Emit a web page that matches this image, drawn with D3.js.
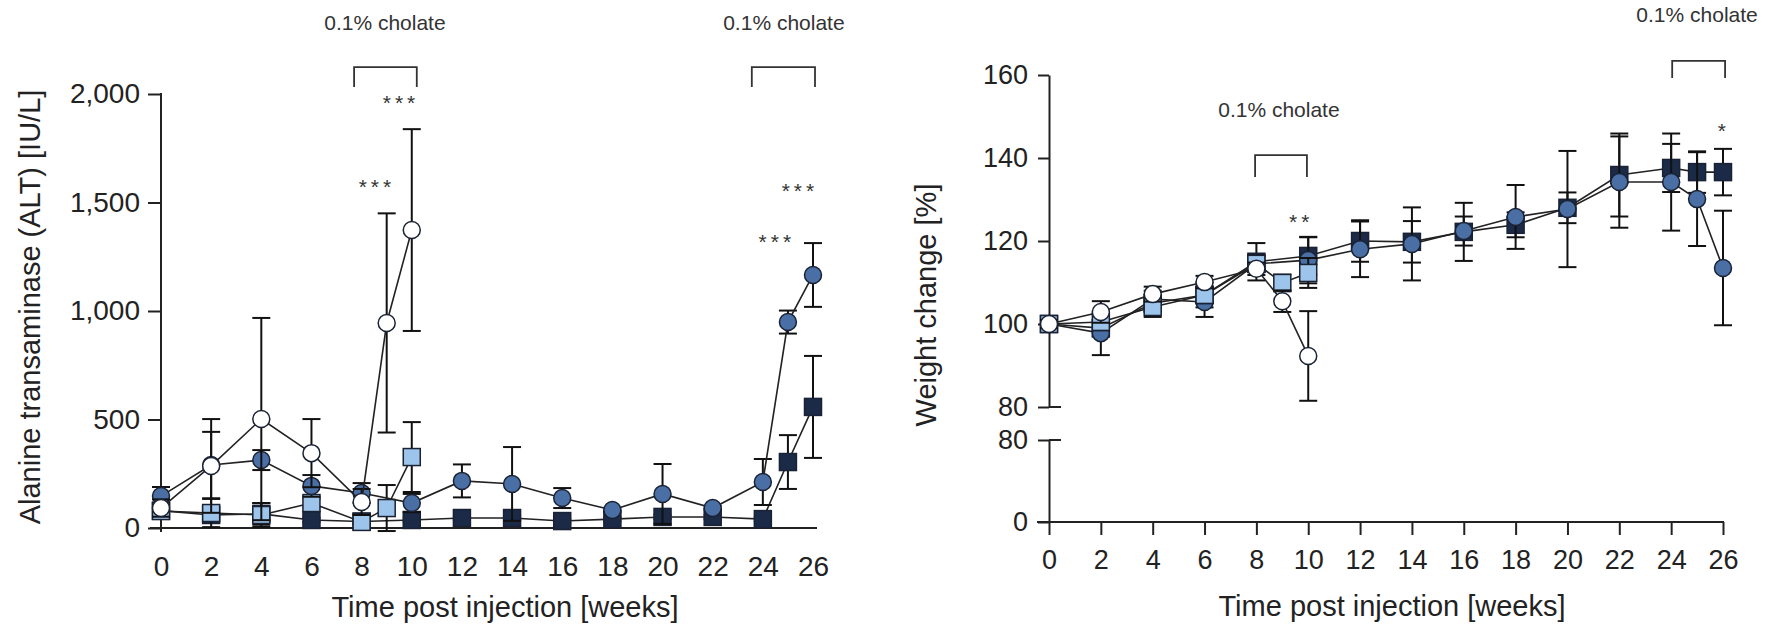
<!DOCTYPE html>
<html>
<head>
<meta charset="utf-8">
<script src="https://cdn.jsdelivr.net/npm/d3@7"></script>
<style>
  body { margin: 0; background: #fff; }
  svg text { font-family: "Liberation Sans", Arial, sans-serif; fill: #222; }
</style>
</head>
<body>
<div id="chart"></div>
<script>
// weeks sampled: short series stop at week 10, long ones run to 26
var weeksShort = [0, 2, 4, 6, 8, 9, 10];
var weeksLong = [0, 2, 4, 6, 8, 10, 12, 14, 16, 18, 20, 22, 24, 25, 26];
var weekTicks = [0, 2, 4, 6, 8, 10, 12, 14, 16, 18, 20, 22, 24, 26];

// ALT [IU/L]
var altTicks = [0, 500, 1000, 1500, 2000];
var altOpen = [92, 286, 502, 345, 120, 945, 1373];
var altOpenSd = [40, 216, 466, 157, 60, 505, 465];
var altLight = [78, 69, 60, 115, 28, 92, 327];
var altLightSd = [20, 65, 55, 20, 10, 106, 161];
var altBlue = [147, 290, 313, 194, 161, 115, 217, 203, 138, 83, 157, 92, 212, 949, 1166];
var altBlueSd = [42, 153, 46, 50, 46, 42, 76, 170, 46, 10, 138, 10, 106, 53, 147];
var altDark = [80, 60, 65, 37, 30, 37, 46, 46, 32, 41, 51, 51, 41, 304, 558];
var altDarkSd = [10, 10, 50, 10, 10, 10, 10, 10, 10, 10, 10, 10, 10, 124, 235];

// weight change [%]
var wtTicksUpper = [80, 100, 120, 140, 160];
var wtTicksLower = [0, 80];
var wtOpen = [100, 102.9, 107.2, 110.1, 113.3, 105.5, 92.3];
var wtOpenSd = [1, 2.6, 1.8, 1.5, 1.5, 2.6, 10.8];
var wtLight = [100, 100.5, 104.1, 107, 114.5, 109.9, 112.3];
var wtLightSd = [1, 2, 2.4, 2, 2, 2, 3.6];
var wtBlue = [100, 97.8, 106, 105.3, 114.5, 115.4, 118, 119.3, 122.4, 125.8, 127.7, 134.2, 134.2, 130.1, 113.5];
var wtBlueSd = [1, 5.3, 2, 3.6, 2, 5.6, 6.7, 8.8, 3.5, 7.7, 14, 11, 11.7, 11.3, 13.8];
var wtDark = [100, 99, 105, 107, 115, 116.4, 120, 119.8, 122.2, 123.9, 128, 135.9, 137.6, 136.6, 136.6];
var wtDarkSd = [1, 2, 2, 3, 4.5, 4.5, 5, 5, 7, 3, 3.7, 10, 5.8, 5, 5.6];

// annotations, in data units: [fromWeek, toWeek, top, bottom]
var altBrackets = [[7.7, 10.2, 2124, 2032], [23.56, 26.08, 2124, 2032]];
var altNotes = [[8.93, 2295], [24.84, 2295]];
var altStars = [[9.49, 1982, "***"], [8.53, 1594, "***"], [25.4, 1576, "***"], [24.48, 1341, "***"]];
var wtBrackets = [[7.95, 9.95, 140.7, 135.4], [24.04, 26.08, 163.4, 159.3]];
var wtNotes = [[8.87, 149.9], [25.0, 172.8]];
var wtStars = [[9.65, 125.8, "**"], [25.96, 147.7, "*"]];

var colors = {
  open: "#ffffff", light: "#9dc4ea", blue: "#4a6fa5", dark: "#1b2a47"
};

var svg = d3.select("#chart").append("svg")
  .attr("width", 1771)
  .attr("height", 629);

// left panel scales
var xL = d3.scaleLinear().domain([0, 26]).range([161, 813]);
var yL = d3.scaleLinear().domain([0, 2000]).range([528, 94]);

// right panel: broken y axis
var xR = d3.scaleLinear().domain([0, 26]).range([1049, 1723]);
var yRU = d3.scaleLinear().domain([80, 160]).range([407, 75]);
var yRL = d3.scaleLinear().domain([0, 80]).range([522, 440]);
function yR(v) { return v >= 80 ? yRU(v) : yRL(v); }

function drawSeries(g, x, y, weeks, mean, sd, shape, fill) {
  var pts = weeks.map(function(w, i) { return {w: w, m: mean[i], s: sd[i]}; });

  var eb = g.append("g").attr("stroke", "#111").attr("stroke-width", 2);
  pts.forEach(function(d) {
    var top = y(d.m + d.s), bot = y(d.m - d.s), cx = x(d.w);
    eb.append("line").attr("x1", cx).attr("x2", cx).attr("y1", top).attr("y2", bot);
    eb.append("line").attr("x1", cx - 9).attr("x2", cx + 9).attr("y1", top).attr("y2", top);
    eb.append("line").attr("x1", cx - 9).attr("x2", cx + 9).attr("y1", bot).attr("y2", bot);
  });

  var line = d3.line().x(function(d) { return x(d.w); }).y(function(d) { return y(d.m); });
  g.append("path").datum(pts)
    .attr("d", line)
    .attr("fill", "none")
    .attr("stroke", "#222")
    .attr("stroke-width", 1.6);

  if (shape == "square") {
    g.selectAll(null).data(pts).enter().append("rect")
      .attr("x", function(d) { return x(d.w) - 8.5; })
      .attr("y", function(d) { return y(d.m) - 8.5; })
      .attr("width", 17).attr("height", 17)
      .attr("fill", fill)
      .attr("stroke", "#1a2235")
      .attr("stroke-width", 1.5);
  } else {
    g.selectAll(null).data(pts).enter().append("circle")
      .attr("cx", function(d) { return x(d.w); })
      .attr("cy", function(d) { return y(d.m); })
      .attr("r", 8.5)
      .attr("fill", fill)
      .attr("stroke", "#1a2235")
      .attr("stroke-width", 1.5);
  }
}

function drawNotes(g, x, y, brackets, notes, stars) {
  brackets.forEach(function(b) {
    g.append("path")
      .attr("d", "M" + x(b[0]) + "," + y(b[3]) + "V" + y(b[2]) + "H" + x(b[1]) + "V" + y(b[3]))
      .attr("fill", "none").attr("stroke", "#333").attr("stroke-width", 1.8);
  });
  notes.forEach(function(n) {
    g.append("text").attr("x", x(n[0])).attr("y", y(n[1]))
      .attr("text-anchor", "middle").attr("font-size", 21)
      .style("fill", "#333")
      .text("0.1% cholate");
  });
  stars.forEach(function(s) {
    g.append("text").attr("x", x(s[0]) + 2).attr("y", y(s[1]) + 12)
      .attr("text-anchor", "middle").attr("font-size", 21)
      .attr("letter-spacing", 4)
      .style("fill", "#333")
      .text(s[2]);
  });
}

// ---------- left panel ----------
var left = svg.append("g");

left.append("g")
  .attr("transform", "translate(" + xL(0) + ",0)")
  .call(d3.axisLeft(yL).tickValues(altTicks).tickSize(13).tickPadding(8).tickFormat(d3.format(",")))
  .call(function(a) {
    a.select(".domain").remove();
    a.selectAll("line").attr("stroke", "#222").attr("stroke-width", 2);
    a.selectAll("text").attr("font-size", 28).style("fill", "#222");
  });
left.append("line")
  .attr("x1", xL(0)).attr("x2", xL(0))
  .attr("y1", yL(2000) - 1).attr("y2", yL(0) + 4)
  .attr("stroke", "#222").attr("stroke-width", 2);

left.append("g")
  .attr("transform", "translate(0," + yL(0) + ")")
  .call(d3.axisBottom(xL).tickValues(weekTicks).tickSize(0).tickPadding(28))
  .call(function(a) {
    a.select(".domain").remove();
    a.selectAll("text").attr("font-size", 28).style("fill", "#222");
  });
left.append("line")
  .attr("x1", xL(0) - 11).attr("x2", xL(26) + 4)
  .attr("y1", yL(0)).attr("y2", yL(0))
  .attr("stroke", "#222").attr("stroke-width", 2);

left.append("text")
  .attr("transform", "translate(40," + 307 + ") rotate(-90)")
  .attr("text-anchor", "middle").attr("font-size", 29)
  .text("Alanine transaminase (ALT) [IU/L]");
left.append("text")
  .attr("x", 505).attr("y", 617)
  .attr("text-anchor", "middle").attr("font-size", 29)
  .text("Time post injection [weeks]");

drawSeries(left.append("g"), xL, yL, weeksLong, altDark, altDarkSd, "square", colors.dark);
drawSeries(left.append("g"), xL, yL, weeksShort, altLight, altLightSd, "square", colors.light);
drawSeries(left.append("g"), xL, yL, weeksLong, altBlue, altBlueSd, "circle", colors.blue);
drawSeries(left.append("g"), xL, yL, weeksShort, altOpen, altOpenSd, "circle", colors.open);
drawNotes(left, xL, yL, altBrackets, altNotes, altStars);

// ---------- right panel ----------
var right = svg.append("g");

right.append("g")
  .attr("transform", "translate(" + xR(0) + ",0)")
  .call(d3.axisLeft(yRU).tickValues(wtTicksUpper).tickSize(11).tickPadding(10).tickSizeOuter(0))
  .call(function(a) {
    a.selectAll("path, line").attr("stroke", "#222").attr("stroke-width", 2);
    a.selectAll("text").attr("font-size", 27).style("fill", "#222");
  });
right.append("g")
  .attr("transform", "translate(" + xR(0) + ",0)")
  .call(d3.axisLeft(yRL).tickValues(wtTicksLower).tickSize(11).tickPadding(10).tickSizeOuter(0))
  .call(function(a) {
    a.selectAll("path, line").attr("stroke", "#222").attr("stroke-width", 2);
    a.selectAll("text").attr("font-size", 27).style("fill", "#222");
  });
// break marks: the 80 ticks cross the axis
[yRU(80), yRL(80)].forEach(function(yy) {
  right.append("line")
    .attr("x1", xR(0)).attr("x2", xR(0) + 12)
    .attr("y1", yy).attr("y2", yy)
    .attr("stroke", "#222").attr("stroke-width", 2);
});

right.append("g")
  .attr("transform", "translate(0," + yRL(0) + ")")
  .call(d3.axisBottom(xR).tickValues(weekTicks).tickSize(13).tickPadding(15))
  .call(function(a) {
    a.select(".domain").remove();
    a.selectAll("line").attr("stroke", "#222").attr("stroke-width", 2);
    a.selectAll("text").attr("font-size", 27).style("fill", "#222");
  });
right.append("line")
  .attr("x1", xR(0) - 12).attr("x2", xR(26) + 1)
  .attr("y1", yRL(0)).attr("y2", yRL(0))
  .attr("stroke", "#222").attr("stroke-width", 2);

right.append("text")
  .attr("transform", "translate(936," + 305 + ") rotate(-90)")
  .attr("text-anchor", "middle").attr("font-size", 29)
  .text("Weight change [%]");
right.append("text")
  .attr("x", 1392).attr("y", 616)
  .attr("text-anchor", "middle").attr("font-size", 29)
  .text("Time post injection [weeks]");

drawSeries(right.append("g"), xR, yR, weeksLong, wtDark, wtDarkSd, "square", colors.dark);
drawSeries(right.append("g"), xR, yR, weeksLong, wtBlue, wtBlueSd, "circle", colors.blue);
drawSeries(right.append("g"), xR, yR, weeksShort, wtLight, wtLightSd, "square", colors.light);
drawSeries(right.append("g"), xR, yR, weeksShort, wtOpen, wtOpenSd, "circle", colors.open);
drawNotes(right, xR, yR, wtBrackets, wtNotes, wtStars);
</script>
</body>
</html>
